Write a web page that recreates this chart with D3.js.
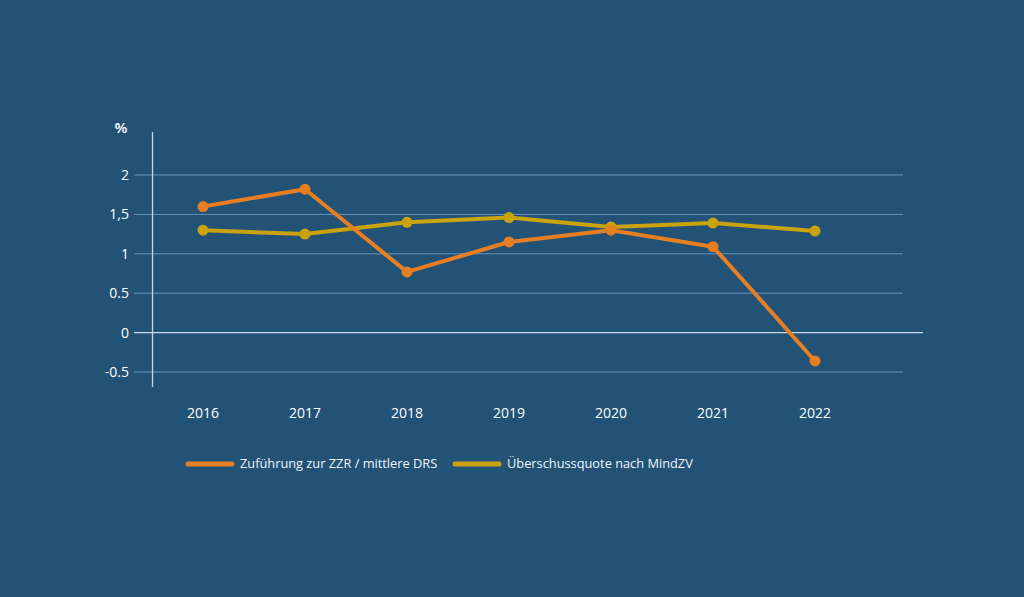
<!DOCTYPE html>
<html>
<head>
<meta charset="utf-8">
<script src="https://cdn.jsdelivr.net/npm/d3@7"></script>
<style>
    html, body { margin: 0; padding: 0; background: #235277; }
    svg { display: block; font-family: "Open Sans", "Noto Sans", sans-serif; }
    .tick-label { fill: #ffffff; font-size: 14px; }
    .legend-label { fill: #f2f6fa; font-size: 12.8px; }
</style>
</head>
<body>
<svg id="chart" width="1024" height="597"></svg>
<script>
// data
const years = ["2016", "2017", "2018", "2019", "2020", "2021", "2022"];
const zufuehrung = [1.6, 1.82, 0.77, 1.15, 1.3, 1.09, -0.36];
const ueberschuss = [1.3, 1.25, 1.4, 1.46, 1.34, 1.39, 1.29];
const y_ticks = [-0.5, 0, 0.5, 1, 1.5, 2];
const y_tick_labels = ["-0.5", "0", "0.5", "1", "1,5", "2"];
const series_names = ["Zuführung zur ZZR / mittlere DRS", "Überschussquote nach MindZV"];

const series = [
    {name: series_names[0], values: zufuehrung, color: "#e67e22"},
    {name: series_names[1], values: ueberschuss, color: "#c9a20c"}
];

const svg = d3.select("#chart");

const x_scale = d3.scalePoint().domain(years).range([203, 815]);
const y_scale = d3.scaleLinear().domain([-0.5, 2]).range([372, 175]);

// gridlines
svg.append("g")
    .selectAll("line")
    .data(y_ticks)
    .enter().append("line")
        .attr("x1", 134)
        .attr("x2", d => d === 0 ? 923 : 903)
        .attr("y1", d => y_scale(d))
        .attr("y2", d => y_scale(d))
        .style("stroke", d => d === 0 ? "#c9dbea" : "#6a93b8")
        .style("stroke-width", d => d === 0 ? 1.3 : 1);

// y axis line
svg.append("line")
    .attr("x1", 152.5).attr("x2", 152.5)
    .attr("y1", 132).attr("y2", 387)
    .style("stroke", "#c9dbea")
    .style("stroke-width", 1.3);

// y tick labels
svg.append("g")
    .selectAll("text")
    .data(y_ticks)
    .enter().append("text")
        .attr("class", "tick-label")
        .attr("x", 129)
        .attr("y", d => y_scale(d))
        .attr("dy", "0.35em")
        .style("text-anchor", "end")
        .text((d, i) => y_tick_labels[i]);

// unit label
svg.append("text")
    .attr("class", "tick-label")
    .attr("x", 121)
    .attr("y", 133)
    .style("text-anchor", "middle")
    .style("font-size", "15px")
    .style("font-weight", "600")
    .text("%");

// x tick labels
svg.append("g")
    .selectAll("text")
    .data(years)
    .enter().append("text")
        .attr("class", "tick-label")
        .attr("x", d => x_scale(d))
        .attr("y", 418)
        .style("text-anchor", "middle")
        .text(d => d);

// lines and dots
const line = d3.line()
    .x((d, i) => x_scale(years[i]))
    .y(d => y_scale(d));

series.slice().reverse().forEach(s => {
    svg.append("path")
        .datum(s.values)
        .attr("d", line)
        .style("fill", "none")
        .style("stroke", s.color)
        .style("stroke-width", 4)
        .style("stroke-linejoin", "round");

    svg.append("g")
        .selectAll("circle")
        .data(s.values)
        .enter().append("circle")
            .attr("cx", (d, i) => x_scale(years[i]))
            .attr("cy", d => y_scale(d))
            .attr("r", 5.5)
            .style("fill", s.color);
});

// legend
const legend_x = [188, 455];
series.forEach((s, i) => {
    svg.append("line")
        .attr("x1", legend_x[i]).attr("x2", legend_x[i] + 44)
        .attr("y1", 464).attr("y2", 464)
        .style("stroke", s.color)
        .style("stroke-width", 5)
        .style("stroke-linecap", "round");

    svg.append("text")
        .attr("class", "legend-label")
        .attr("x", legend_x[i] + 52)
        .attr("y", 464)
        .attr("dy", "0.35em")
        .text(s.name);
});
</script>
</body>
</html>
